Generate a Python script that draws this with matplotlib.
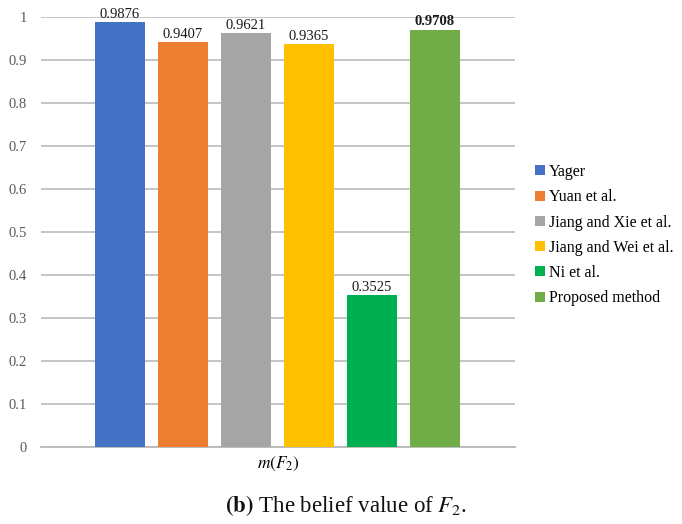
import matplotlib
matplotlib.use("Agg")
import matplotlib.pyplot as plt
from matplotlib.patches import Patch

methods = ["Yager", "Yuan et al.", "Jiang and Xie et al.", "Jiang and Wei et al.", "Ni et al.", "Proposed method"]
values = [0.9876, 0.9407, 0.9621, 0.9365, 0.3525, 0.9708]
labels = ["0.9876", "0.9407", "0.9621", "0.9365", "0.3525", "0.9708"]
colors = ["#4472C4", "#ED7D31", "#A5A5A5", "#FFC000", "#00B050", "#70AD47"]
category = "$m(F_2)$"
yticks = [0, 0.1, 0.2, 0.3, 0.4, 0.5, 0.6, 0.7, 0.8, 0.9, 1]
ytick_labels = ["0", "0.1", "0.2", "0.3", "0.4", "0.5", "0.6", "0.7", "0.8", "0.9", "1"]

serif = ["Liberation Serif", "DejaVu Serif"]
plt.rcParams["font.family"] = serif
plt.rcParams["mathtext.fontset"] = "stix"

fig = plt.figure(figsize=(6.82, 5.24), dpi=100)
ax = fig.add_axes([41/682, 1-447/524, 474/682, 430/524])

step = 63/474
width = 50/474
n = len(values)
for i, (v, c, lab) in enumerate(zip(values, colors, labels)):
    x = (i - (n-1)/2) * step - 1/474
    ax.bar(x, v, width=width, color=c, zorder=3)
    ax.text(x, v + 0.003, lab, ha="center", va="bottom", fontsize=10.5,
            fontweight="bold" if i == n-1 else "normal", color="#1a1a1a", zorder=4)

ax.set_xlim(-0.5, 0.5)
ax.set_ylim(0, 1)
ax.set_yticks(yticks)
ax.set_yticklabels(ytick_labels, fontsize=10.5, color="#595959")
ax.set_xticks([0])
ax.set_xticklabels([category], fontsize=12.5)
ax.tick_params(axis="x", length=0, pad=6)
ax.tick_params(axis="y", length=0, pad=10)
ax.yaxis.grid(True, color="#C0C0C0", linewidth=1.3, zorder=0)
ax.set_axisbelow(True)
for s in ["top", "right", "left"]:
    ax.spines[s].set_visible(False)
ax.spines["bottom"].set_color("#B8B8B8")
ax.spines["bottom"].set_linewidth(1.3)

handles = [Patch(facecolor=c, edgecolor="none") for c in colors]
fig.legend(handles, methods, loc="upper left", bbox_to_anchor=(527/682, 1-156/524),
           frameon=False, fontsize=11.5, handlelength=0.6, handleheight=0.6,
           handletextpad=0.28, labelspacing=0.58, borderpad=0)

fig.text(346/682, 1-506/524, r"$\mathbf{(b)}$ The belief value of $F_2$.", ha="center", va="center",
         fontsize=16.5, color="#111111")

fig.savefig("out.png", dpi=100)
